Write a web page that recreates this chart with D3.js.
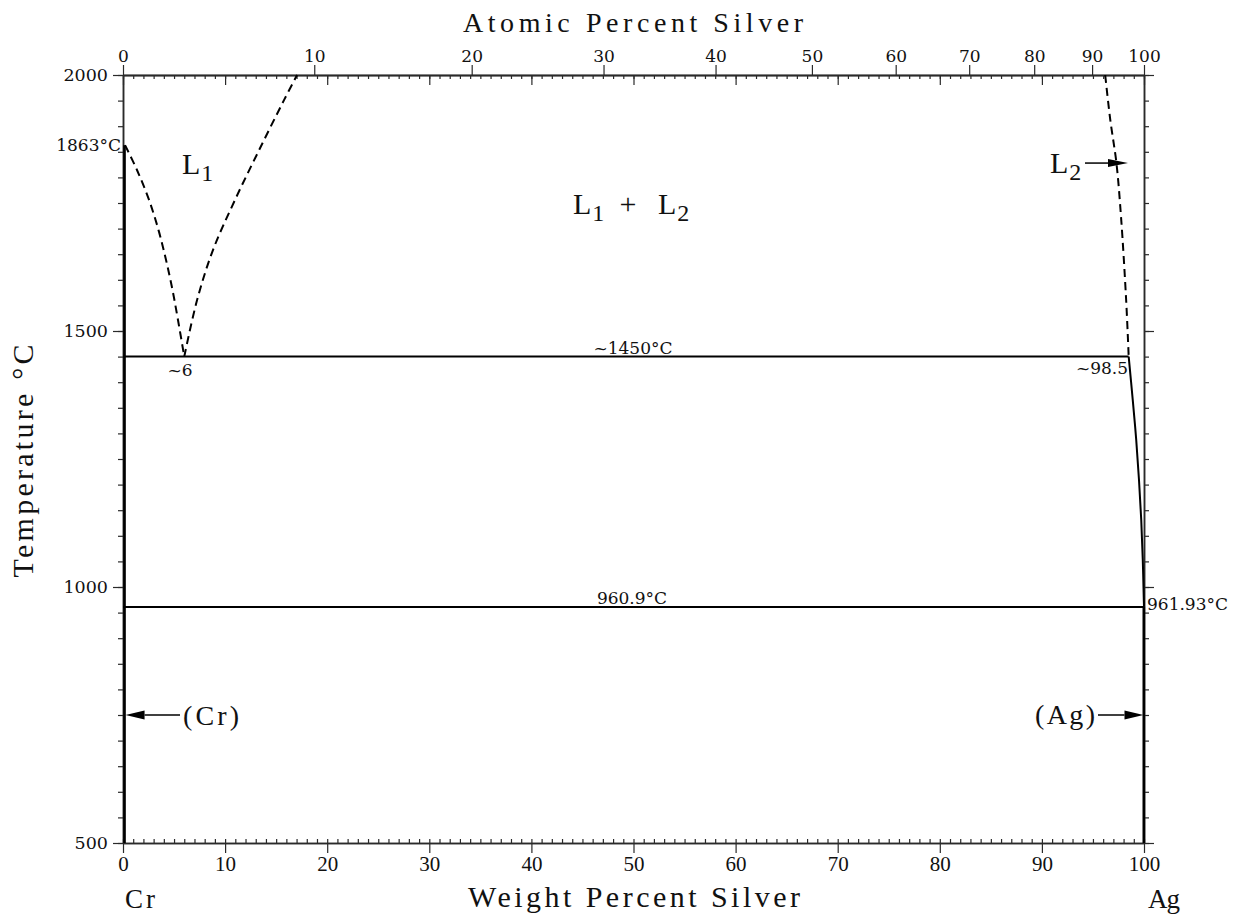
<!DOCTYPE html>
<html><head><meta charset="utf-8">
<script src="https://cdn.jsdelivr.net/npm/d3@7"></script>
<style>body{margin:0;background:#fff}svg{display:block}</style>
</head><body>
<svg id="c" width="1233" height="916"></svg>
<script>
// ---- data ----
const wtTicks = [0,10,20,30,40,50,60,70,80,90,100];
const atTicks = [0,10,20,30,40,50,60,70,80,90,100];
const tempTicks = [500,1000,1500,2000];
const liquidusL1Cr = [[0.2,1863],[1.37,1814.5],[2.55,1756],[3.48,1697],[4.21,1639],[4.85,1580],[5.39,1521],[6,1450]];
const liquidusL1Gap = [[6,1450],[7.25,1560],[8.81,1658],[10.97,1756],[13.32,1853],[15.77,1951],[17.05,2000]];
const liquidusL2Gap = [[96.2,2000],[96.7,1912],[97.3,1828],[97.75,1723],[98.25,1561],[98.5,1450]];
const liquidusAg = [[98.5,1450],[98.9,1365],[99.24,1287],[99.51,1209],[99.73,1131],[99.88,1053],[99.98,975],[100,961.93]];
const solvusCr = [[0.15,1863],[0.15,500]];
const solvusAg = [[99.98,961.93],[99.98,500]];
const monotectic = [[0,1450],[98.5,1450]];
const eutectic = [[0,960.9],[100,960.9]];
const M_AG = 107.868, M_CR = 51.996;
const atToWt = a => 100*a*M_AG/(a*M_AG+(100-a)*M_CR);

// ---- scales ----
const svg = d3.select('#c');
const x = d3.scaleLinear().domain([0,100]).range([123,1144]);
const y = d3.scaleLinear().domain([500,2000]).range([843,75]);
const xAt = d3.scaleLinear().domain(atTicks).range(atTicks.map(a => x(atToWt(a))));
const X0 = x(0), X1 = x(100), Y0 = y(500), Y1 = y(2000);

const numFont = "'DejaVu Serif', serif";
const serif = "'Liberation Serif', 'Times New Roman', serif";
const axisColor = '#2a2a2a';

function style(g){
  g.selectAll('path.domain').attr('stroke', axisColor).attr('stroke-width', 1.5);
  g.selectAll('.tick line').attr('stroke', axisColor).attr('stroke-width', 1.2);
  return g;
}

// bottom: major outward labeled, minor inward
const gB = svg.append('g').attr('transform', `translate(0,${Y0})`)
  .call(d3.axisBottom(x).tickValues(wtTicks).tickSize(10).tickSizeOuter(0).tickFormat(d3.format('d')));
style(gB);
gB.selectAll('text').attr('y', 28).attr('dy', null)
  .style('font-family', serif).style('font-size', '21px').attr('fill', '#111');
const gBm = svg.append('g').attr('transform', `translate(0,${Y0})`)
  .call(d3.axisTop(x).tickValues(d3.range(0,101,1)).tickSize(4).tickSizeOuter(0).tickFormat(''));
style(gBm);

// top: atomic labeled outward, weight ticks inward
const gT = svg.append('g').attr('transform', `translate(0,${Y1})`)
  .call(d3.axisTop(xAt).tickValues(atTicks).tickSize(10).tickSizeOuter(0).tickFormat(d3.format('d')));
style(gT);
gT.selectAll('text').style('font-family', numFont).style('font-size', '17px').attr('fill', '#111');
const gTm = svg.append('g').attr('transform', `translate(0,${Y1})`)
  .call(d3.axisBottom(x).tickValues(d3.range(0,101,1)).tickSize(4).tickSizeOuter(0).tickFormat(''));
style(gTm);
const gTM = svg.append('g').attr('transform', `translate(0,${Y1})`)
  .call(d3.axisBottom(x).tickValues(wtTicks).tickSize(10).tickSizeOuter(0).tickFormat(''));
style(gTM);

// left
const gL = svg.append('g').attr('transform', `translate(${X0},0)`)
  .call(d3.axisLeft(y).tickValues(tempTicks).tickSize(10).tickPadding(5).tickSizeOuter(0).tickFormat(d3.format('d')));
style(gL);
gL.selectAll('text').style('font-family', numFont).style('font-size', '17.5px').attr('fill', '#111');
const gLm = svg.append('g').attr('transform', `translate(${X0},0)`)
  .call(d3.axisLeft(y).tickValues(d3.range(500,2001,50)).tickSize(5).tickSizeOuter(0).tickFormat(''));
style(gLm);
// right
const gR = svg.append('g').attr('transform', `translate(${X1},0)`)
  .call(d3.axisRight(y).tickValues(tempTicks).tickSize(10).tickSizeOuter(0).tickFormat(''));
style(gR);
const gRm = svg.append('g').attr('transform', `translate(${X1},0)`)
  .call(d3.axisRight(y).tickValues(d3.range(500,2001,50)).tickSize(5).tickSizeOuter(0).tickFormat(''));
style(gRm);

// ---- phase boundaries ----
const line = d3.line().x(d => x(d[0])).y(d => y(d[1])).curve(d3.curveCatmullRom.alpha(0.5));
const straight = d3.line().x(d => x(d[0])).y(d => y(d[1]));
function draw(data, gen, w, dash){
  svg.append('path').datum(data).attr('d', gen).attr('fill','none')
    .attr('stroke','#000').attr('stroke-width', w).attr('stroke-dasharray', dash || null);
}
draw(liquidusL1Cr, line, 2, '8,5');
draw(liquidusL1Gap, line, 2, '8,5');
draw(liquidusL2Gap, line, 2, '8,5');
draw(liquidusAg, line, 2);
draw(monotectic, straight, 2);
draw(eutectic, straight, 2);
draw(solvusCr, straight, 2.6);
draw(solvusAg, straight, 2.6);

// ---- labels ----
function txt(xp, yp, s, font, size, anchor){
  return svg.append('text').attr('x', xp).attr('y', yp).text(s)
    .style('font-family', font).style('font-size', size + 'px')
    .attr('text-anchor', anchor || 'start').attr('fill', '#111');
}
function phase(xp, yp, main, sub){
  const t = svg.append('text').attr('x', xp).attr('y', yp)
    .style('font-family', serif).attr('fill', '#111');
  t.append('tspan').text(main).style('font-size', '30px');
  t.append('tspan').text(sub).attr('dy', 7).attr('dx', 1).style('font-size', '24px');
  return t;
}
// axis titles
txt(633, 32, 'Atomic Percent Silver', serif, 28, 'middle').attr('textLength', 340).attr('lengthAdjust','spacing');
txt(634, 907, 'Weight Percent Silver', serif, 30, 'middle').attr('textLength', 332).attr('lengthAdjust','spacing');
svg.append('text').attr('transform', 'translate(33,461) rotate(-90)').attr('text-anchor','middle')
  .text('Temperature °C').style('font-family', serif).style('font-size','30px').attr('fill','#111')
  .attr('textLength', 233).attr('lengthAdjust','spacing');
txt(125, 908, 'Cr', serif, 27).attr('textLength', 30).attr('lengthAdjust','spacing');
txt(1148, 908, 'Ag', serif, 27).attr('textLength', 32).attr('lengthAdjust','spacing');

// phase labels
phase(182, 174, 'L', '1');
phase(573, 214, 'L', '1');
txt(628, 214, '+', serif, 30, 'middle');
phase(658, 214, 'L', '2');
phase(1050, 173, 'L', '2');

// annotations
txt(121, 151, '1863°C', numFont, 17, 'end');
txt(633, 354, '~1450°C', numFont, 17, 'middle');
txt(180, 376, '~6', numFont, 17, 'middle');
txt(1128, 374, '~98.5', numFont, 17, 'end');
txt(632, 604, '960.9°C', numFont, 17, 'middle');
txt(1147, 610, '961.93°C', numFont, 17, 'start');
txt(183, 725, '(Cr)', serif, 28).attr('textLength', 56).attr('lengthAdjust','spacing');
txt(1035, 724, '(Ag)', serif, 28).attr('textLength', 60).attr('lengthAdjust','spacing');

// arrows
function arrow(x1, x2, yp, head, half){
  const dir = Math.sign(x2 - x1);
  svg.append('line').attr('x1', x1).attr('x2', x2 - dir*head).attr('y1', yp).attr('y2', yp)
    .attr('stroke','#000').attr('stroke-width', 1.5);
  svg.append('path').attr('d', `M${x2},${yp} L${x2 - dir*head},${yp-half} L${x2 - dir*head},${yp+half} Z`)
    .attr('fill','#000');
}
arrow(1085, 1128, y(1828), 20, 4);
arrow(180, x(0.25), y(750), 19, 4.5);
arrow(1098, x(99.95), y(750), 19, 4.5);
</script>
</body></html>
